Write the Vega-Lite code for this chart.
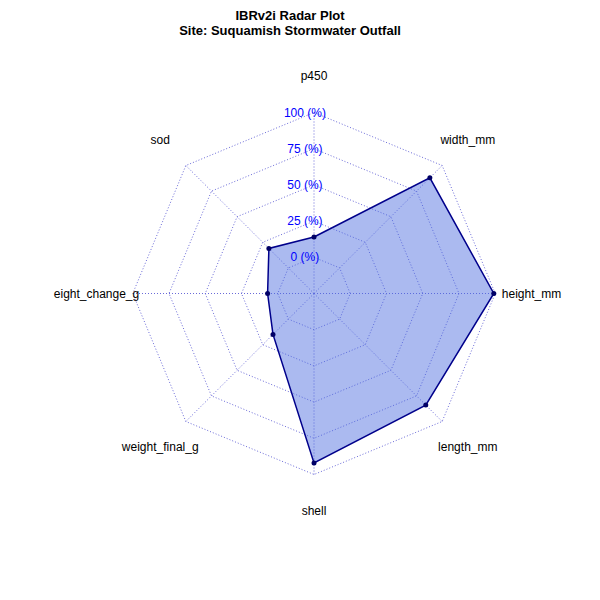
{
  "$schema": "https://vega.github.io/schema/vega-lite/v6.json",
  "width": 580,
  "height": 543,
  "autosize": "none",
  "padding": {"left": 24, "top": 22, "right": 0, "bottom": 0},
  "title": {
    "text": ["IBRv2i Radar Plot", "Site: Suquamish Stormwater Outfall"],
    "offset": -2,
    "dy": 14,
    "fontSize": 13,
    "font": "Liberation Sans",
    "fontWeight": "bold",
    "color": "black",
    "anchor": "middle",
    "align": "center",
    "dx": -24
  },
  "datasets": {
    "axes": [
      {"i": 0, "name": "p450", "value": 14},
      {"i": 1, "name": "width_mm", "value": 88},
      {"i": 2, "name": "height_mm", "value": 99},
      {"i": 3, "name": "length_mm", "value": 84},
      {"i": 4, "name": "shell", "value": 92},
      {"i": 5, "name": "weight_final_g", "value": 15},
      {"i": 6, "name": "eight_change_g", "value": 7},
      {"i": 7, "name": "sod", "value": 19}
    ],
    "rings": [
      {"level": 0, "label": "0 (%)", "idx": [0, 1, 2, 3, 4, 5, 6, 7, 8]},
      {"level": 25, "label": "25 (%)", "idx": [0, 1, 2, 3, 4, 5, 6, 7, 8]},
      {"level": 50, "label": "50 (%)", "idx": [0, 1, 2, 3, 4, 5, 6, 7, 8]},
      {"level": 75, "label": "75 (%)", "idx": [0, 1, 2, 3, 4, 5, 6, 7, 8]},
      {"level": 100, "label": "100 (%)", "idx": [0, 1, 2, 3, 4, 5, 6, 7, 8]}
    ]
  },
  "config": {"view": {"stroke": null}},
  "layer": [
    {
      "data": {"name": "rings"},
      "transform": [
        {"flatten": ["idx"]},
        {"calculate": "(25 + datum.level) / 125", "as": "r"},
        {"calculate": "datum.r * sin(datum.idx * PI / 4)", "as": "x"},
        {"calculate": "datum.r * cos(datum.idx * PI / 4)", "as": "y"}
      ],
      "mark": {"type": "line", "color": "#6a6ad8", "strokeWidth": 1, "strokeDash": [1, 2]},
      "encoding": {
        "x": {"field": "x", "type": "quantitative", "scale": {"domain": [-1.6, 1.6], "nice": false, "zero": false}, "axis": null},
        "y": {"field": "y", "type": "quantitative", "scale": {"domain": [-1.5, 1.5], "nice": false, "zero": false}, "axis": null},
        "detail": {"field": "level"},
        "order": {"field": "idx"}
      }
    },
    {
      "data": {"name": "axes"},
      "transform": [
        {"calculate": "sin(datum.i * PI / 4)", "as": "x2"},
        {"calculate": "cos(datum.i * PI / 4)", "as": "y2"},
        {"calculate": "0", "as": "x"},
        {"calculate": "0", "as": "y"}
      ],
      "mark": {"type": "rule", "color": "#6a6ad8", "strokeWidth": 1, "strokeDash": [1, 2]},
      "encoding": {
        "x": {"field": "x", "type": "quantitative"},
        "y": {"field": "y", "type": "quantitative"},
        "x2": {"field": "x2"},
        "y2": {"field": "y2"}
      }
    },
    {
      "data": {"name": "axes"},
      "transform": [
        {"calculate": "[datum.i, datum.i == 0 ? 8 : -1]", "as": "os"},
        {"flatten": ["os"]},
        {"filter": "datum.os >= 0"},
        {"calculate": "(25 + datum.value) / 125", "as": "r"},
        {"calculate": "datum.r * sin(datum.i * PI / 4)", "as": "x"},
        {"calculate": "datum.r * cos(datum.i * PI / 4)", "as": "y"}
      ],
      "mark": {"type": "line", "fill": "#4f6ee0", "fillOpacity": 0.48, "stroke": "#00008b", "strokeWidth": 1.5},
      "encoding": {
        "x": {"field": "x", "type": "quantitative"},
        "y": {"field": "y", "type": "quantitative"},
        "order": {"field": "os"}
      }
    },
    {
      "data": {"name": "axes"},
      "transform": [
        {"calculate": "(25 + datum.value) / 125", "as": "r"},
        {"calculate": "datum.r * sin(datum.i * PI / 4)", "as": "x"},
        {"calculate": "datum.r * cos(datum.i * PI / 4)", "as": "y"}
      ],
      "mark": {"type": "point", "filled": true, "color": "#000066", "size": 25, "opacity": 1},
      "encoding": {
        "x": {"field": "x", "type": "quantitative"},
        "y": {"field": "y", "type": "quantitative"}
      }
    },
    {
      "data": {"name": "axes"},
      "transform": [
        {"calculate": "1.2 * sin(datum.i * PI / 4)", "as": "x"},
        {"calculate": "1.2 * cos(datum.i * PI / 4)", "as": "y"}
      ],
      "mark": {"type": "text", "fontSize": 12, "font": "Liberation Sans", "color": "black", "align": "center", "baseline": "middle"},
      "encoding": {
        "x": {"field": "x", "type": "quantitative"},
        "y": {"field": "y", "type": "quantitative"},
        "text": {"field": "name"}
      }
    },
    {
      "data": {"name": "rings"},
      "transform": [
        {"calculate": "(25 + datum.level) / 125", "as": "y"},
        {"calculate": "-0.05", "as": "x"}
      ],
      "mark": {"type": "text", "fontSize": 12, "font": "Liberation Sans", "color": "#0000ff", "align": "center", "baseline": "middle"},
      "encoding": {
        "x": {"field": "x", "type": "quantitative"},
        "y": {"field": "y", "type": "quantitative"},
        "text": {"field": "label"}
      }
    }
  ]
}
